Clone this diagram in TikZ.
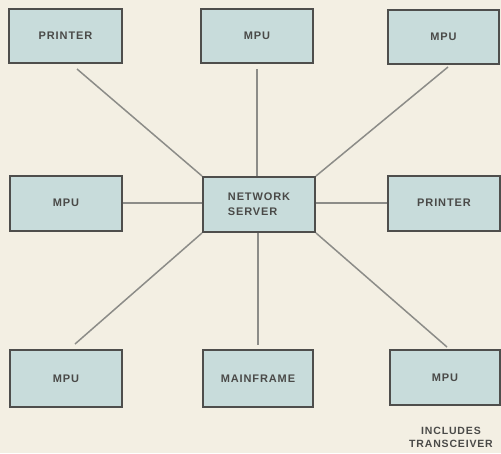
\documentclass[tikz,border=0pt]{standalone}
\usepackage{fontspec}
\setmainfont{Liberation Sans}[LetterSpace=8]
\usetikzlibrary{calc}
\definecolor{bg}{HTML}{F3EFE3}
\definecolor{boxfill}{HTML}{C8DCDB}
\definecolor{boxline}{HTML}{4E4E4C}
\definecolor{wire}{HTML}{8C8C88}
\definecolor{ink}{HTML}{4A4A48}
\begin{document}
\begin{tikzpicture}[x=1pt,y=-1pt,
  unit/.style={draw=boxline, line width=2pt, fill=boxfill, rectangle,
    minimum width=112pt, minimum height=55pt, inner sep=0pt,
    text=ink, font=\fontsize{11}{12.5}\selectfont\bfseries},
  serverbox/.style={unit, align=left, font=\fontsize{11}{15}\selectfont\bfseries},
  wireline/.style={draw=wire, line width=1.5pt}]
\fill[bg] (0,0) rectangle (501,453);
\useasboundingbox (0,0) rectangle (501,453);
\node[unit, minimum width=113pt, minimum height=54pt] (p1) at (65.5,36) {PRINTER};
\node[unit, minimum height=54pt] (m1) at (257,36) {MPU};
\node[unit, minimum width=111pt, minimum height=54pt] (m2) at (443.5,37) {MPU};
\node[unit] (m3) at (66,203) {MPU};
\node[serverbox] (srv) at (259,204.5) {NETWORK\\SERVER};
\node[unit] (p2) at (444,203) {PRINTER};
\node[unit, minimum height=57pt] (m4) at (66,378.5) {MPU};
\node[unit, minimum width=110pt, minimum height=57pt] (mf) at (258,378.5) {MAINFRAME};
\node[unit, minimum width=110pt] (m5) at (445,377.5) {MPU};
\node[text=ink, font=\fontsize{10.5}{13}\selectfont\bfseries, align=center, inner sep=0pt]
  (note) at (451,437) {INCLUDES\\TRANSCEIVER};
% connectors
\draw[wireline] (srv.north west) -- ($(p1.south)+(11.5,5)$);
\draw[wireline] (m1.south |- srv.north) -- ($(m1.south)+(0,5)$);
\draw[wireline] (srv.north east) -- ($(m2.south)+(4.5,2)$);
\draw[wireline] (srv.west |- m3.east) -- (m3.east);
\draw[wireline] (srv.east |- p2.west) -- (p2.west);
\draw[wireline] (srv.south west) -- ($(m4.north)+(9,-5)$);
\draw[wireline] (mf.north |- srv.south) -- ($(mf.north)+(0,-4)$);
\draw[wireline] (srv.south east) -- ($(m5.north)+(2,-2)$);
\node[serverbox] at (259,204.5) {NETWORK\\SERVER};
\end{tikzpicture}
\end{document}
